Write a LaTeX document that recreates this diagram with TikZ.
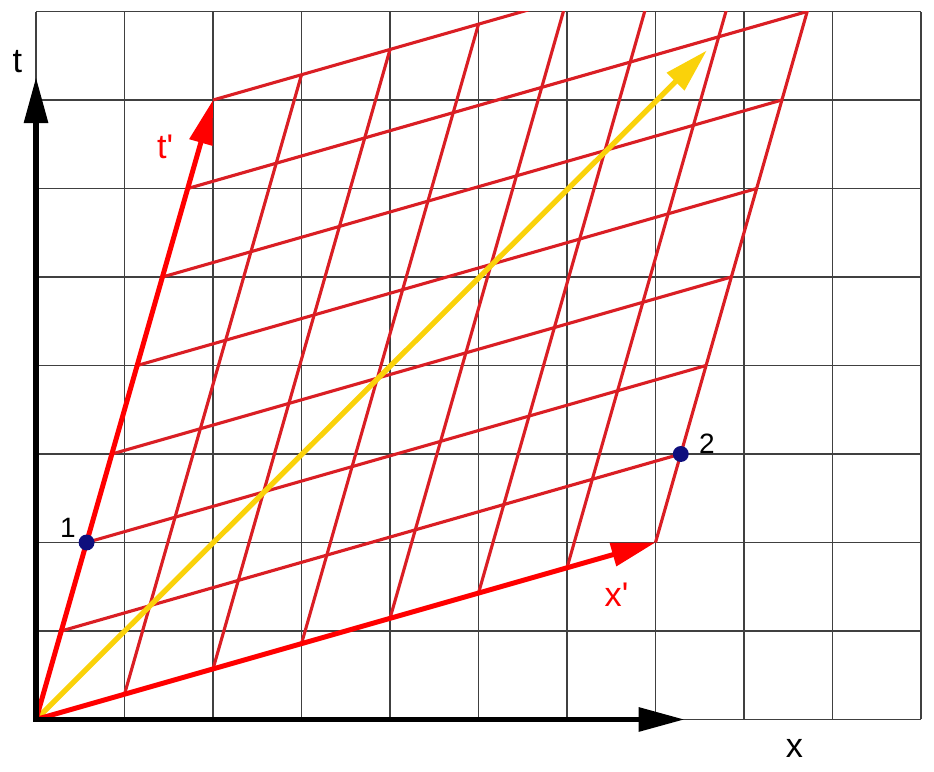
\documentclass[tikz,border=0pt]{standalone}
\usepackage{fontspec}
\setmainfont{Liberation Sans}
\font\primefont="Liberation Sans" at 11pt
\usetikzlibrary{arrows.meta}
\definecolor{gridred}{RGB}{218,30,36}
\definecolor{axisred}{RGB}{255,0,0}
\definecolor{lightray}{RGB}{250,210,10}
\definecolor{eventblue}{RGB}{15,15,125}
\tikzset{
  tip/.style={-{Triangle[length=.5cm,width=.26cm]}},
  primeaxis/.style={axisred,line width=1.6pt,tip},
  boosted/.style={gridred,line width=1pt},
  big/.style={font=\fontsize{11}{13}\selectfont},
  primed/.style={font=\primefont,text=axisred},
  small/.style={font=\fontsize{9}{11}\selectfont}
}
\begin{document}
\begin{tikzpicture}
	    \useasboundingbox (-.407,-.593) rectangle (10.147,8.13);
	    \draw[black!75,line width=.35pt](0,0)grid(10,8);
	    \begin{scope}
	    \clip(0,0)rectangle(10,8);
	    \foreach \k in {1,...,7}{
	    \draw[boosted]({2*\k/7},\k)--++(7,2);
	    \draw[boosted](\k,{2*\k/7})--++(2,7);
	    }
	    \end{scope}
	    \draw[lightray,line width=1.7pt,-{Triangle[length=.5cm,width=.27cm]}](0,0)--(7.58,7.56);
	    \draw[primeaxis](0,0)--(2,7);
	    \draw[primeaxis](0,0)--(7,2);
	    \draw[line width=1.9pt,{Triangle[length=.52cm,width=.26cm]}-{Triangle[length=.52cm,width=.26cm]}](0,7.26)--(0,0)--(7.33,0);
	    \fill[eventblue]({4/7},2)circle(.09);
	    \fill[eventblue]({51/7},3)circle(.09);
	    \draw(-.21,7.43)node(tname)[big]{t};
	    \draw(8.57,-.33)node(xname)[big]{x};
	    \draw(1.46,6.47)node(tprime)[primed]{t'};
	    \draw(6.56,1.41)node(xprime)[primed]{x'};
	    \draw(.36,2.16)node(eventone)[small]{1};
	    \draw(7.58,3.12)node(eventtwo)[small]{2};
\end{tikzpicture}
\end{document}
